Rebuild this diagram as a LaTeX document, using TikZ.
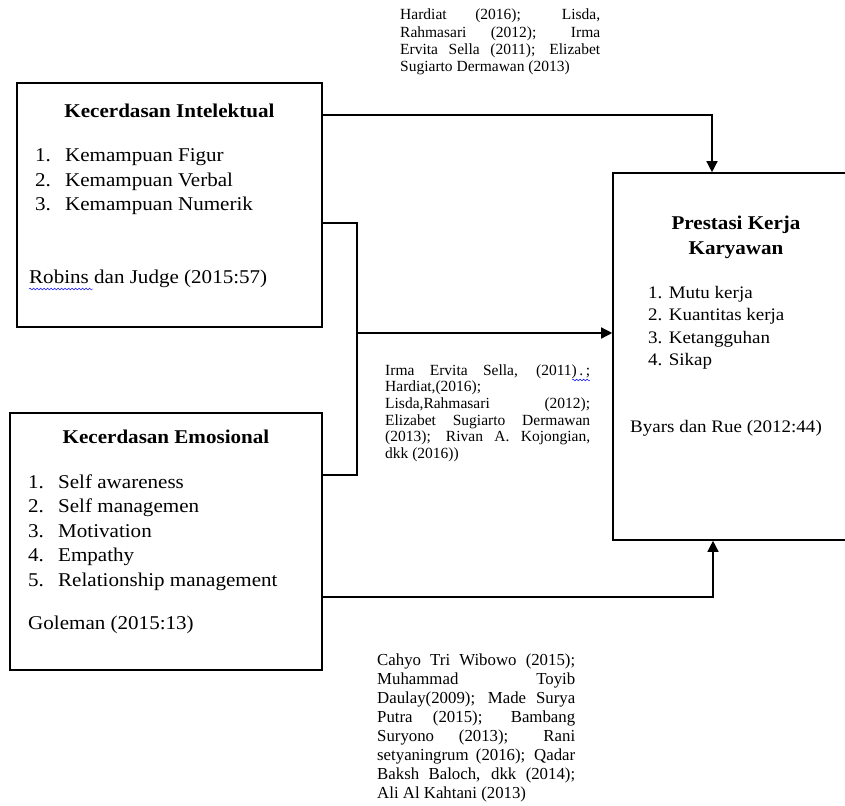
\documentclass[tikz,border=0pt]{standalone}
\usepackage{fontspec}
\setmainfont{Liberation Serif}
\newfontfamily\boxfont[FakeStretch=1.08]{Liberation Serif}
\usetikzlibrary{arrows.meta,decorations.pathmorphing}
\hbadness=10000

\tikzset{
  box/.style={draw, line width=1.6pt, inner sep=0pt},
  head/.style={font=\boxfont\bfseries\fontsize{19.5}{24}\selectfont, anchor=base, inner sep=0pt},
  item/.style={font=\boxfont\fontsize{19.5}{24}\selectfont, anchor=base west, inner sep=0pt},
  itemsm/.style={font=\boxfont\fontsize{17.6}{22}\selectfont, anchor=base west, inner sep=0pt},
  cite/.style={font=\fontsize{15.5}{17.2}\selectfont, anchor=base west, inner sep=0pt, align=justify},
  garis/.style={line width=1.4pt},
  panah/.style={garis, -{Triangle[length=11pt,width=11pt]}},
  ejaan/.style={blue, thin, decorate, decoration={snake, amplitude=0.9pt, segment length=3.5pt}}
}

\begin{document}
\begin{tikzpicture}[x=1pt, y=-1pt]
            \useasboundingbox (0,0) rectangle (845,805);
            \clip (0,0) rectangle (845,805);
            % Kotak variabel
            \node[box, minimum width=305pt, minimum height=244pt] (ki) at (169.5,205) {};
            \node[box, minimum width=312pt, minimum height=257pt] (ke) at (166,541.5) {};
            \node[box, minimum width=246pt, minimum height=367pt] (pk) at (736,356.5) {};
            % Kecerdasan Intelektual
            \node[head] (ki-judul) at (169.5,118) {Kecerdasan Intelektual};
            \node[item] (ki-1) at (35,162) {\makebox[30pt][l]{1.}Kemampuan Figur};
            \node[item] (ki-2) at (35,186) {\makebox[30pt][l]{2.}Kemampuan Verbal};
            \node[item] (ki-3) at (35,210) {\makebox[30pt][l]{3.}Kemampuan Numerik};
            \node[item] (ki-sumber) at (29,283) {Robins dan Judge (2015:57)};
            \draw[ejaan] (29,289) -- (93,289);
            % Kecerdasan Emosional
            \node[head] (ke-judul) at (166,443) {Kecerdasan Emosional};
            \node[item] (ke-1) at (28,488) {\makebox[30pt][l]{1.}Self awareness};
            \node[item] (ke-2) at (28,512.5) {\makebox[30pt][l]{2.}Self managemen};
            \node[item] (ke-3) at (28,537) {\makebox[30pt][l]{3.}Motivation};
            \node[item] (ke-4) at (28,561.5) {\makebox[30pt][l]{4.}Empathy};
            \node[item] (ke-5) at (28,586) {\makebox[30pt][l]{5.}Relationship management};
            \node[item] (ke-sumber) at (28,629) {Goleman (2015:13)};
            % Prestasi Kerja Karyawan
            \node[head] (pk-judul1) at (736,229) {Prestasi Kerja};
            \node[head] (pk-judul2) at (736,254) {Karyawan};
            \node[itemsm] (pk-1) at (648,298) {1. Mutu kerja};
            \node[itemsm] (pk-2) at (648,320.5) {2. Kuantitas kerja};
            \node[itemsm] (pk-3) at (648,343) {3. Ketangguhan};
            \node[itemsm] (pk-4) at (648,365.5) {4. Sikap};
            \node[itemsm] (pk-sumber) at (630,432) {Byars dan Rue (2012:44)};
            % Rujukan penelitian terdahulu
            \node[cite, text width=200pt] (r-atas) at (400,20) {Hardiat (2016); Lisda,\linebreak Rahmasari (2012); Irma\linebreak Ervita Sella (2011); Elizabet\linebreak Sugiarto Dermawan (2013)};
            \node[cite, text width=205pt, font=\fontsize{15.5}{16.7}\selectfont] (r-tengah) at (385,375) {Irma Ervita Sella, (2011)\,.\,;\linebreak Hardiat,(2016);\\ Lisda,Rahmasari (2012);\linebreak Elizabet Sugiarto Dermawan\linebreak (2013); Rivan A. Kojongian,\linebreak dkk (2016))};
            \draw[ejaan] (572,380) -- (590,380);
            \node[cite, text width=198pt, font=\fontsize{16.8}{19}\selectfont] (r-bawah) at (377,665) {Cahyo Tri Wibowo (2015);\linebreak Muhammad Toyib\linebreak Daulay(2009); Made Surya\linebreak Putra (2015); Bambang\linebreak Suryono (2013); Rani\linebreak setyaningrum (2016); Qadar\linebreak Baksh Baloch, dkk (2014);\linebreak Ali Al Kahtani (2013)};
            % Garis hubungan
            \coordinate (a1) at (712,115);
            \coordinate (c1) at (357,223);
            \coordinate (c2) at (357,475);
            \coordinate (c3) at (357,333);
            \coordinate (b1) at (713,597);
            \draw[panah] (ki.east |- a1) -| (pk.north -| a1);
            \draw[garis] (ki.east |- c1) -- (c1) -- (c2) -- (ke.east |- c2);
            \draw[panah] (c3) -- (pk.west |- c3);
            \draw[panah] (ke.east |- b1) -| (pk.south -| b1);
        \end{tikzpicture}
\end{document}
